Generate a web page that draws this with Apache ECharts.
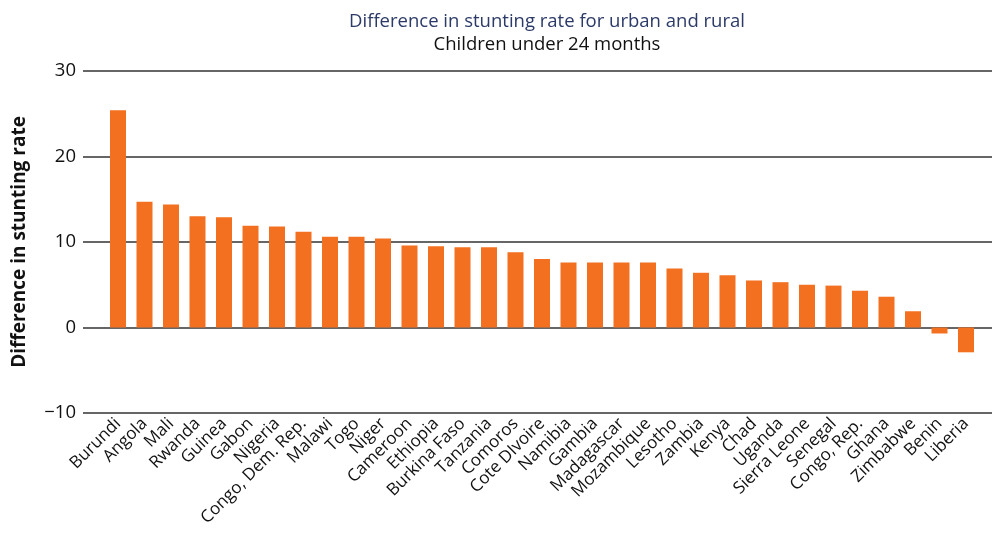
<!DOCTYPE html>
<html>
<head>
<meta charset="utf-8">
<script src="https://cdn.jsdelivr.net/npm/echarts@6/dist/echarts.min.js"></script>
<style>html,body{margin:0;padding:0;background:#fff}#c{width:992px;height:542px}</style>
</head>
<body>
<div id="c"></div>
<script>
const categories = ["Burundi","Angola","Mali","Rwanda","Guinea","Gabon","Nigeria","Congo, Dem. Rep.","Malawi","Togo","Niger","Cameroon","Ethiopia","Burkina Faso","Tanzania","Comoros","Cote DIvoire","Namibia","Gambia","Madagascar","Mozambique","Lesotho","Zambia","Kenya","Chad","Uganda","Sierra Leone","Senegal","Congo, Rep.","Ghana","Zimbabwe","Benin","Liberia"];
const values = [25.4,14.7,14.4,13.0,12.9,11.9,11.8,11.2,10.6,10.6,10.4,9.6,9.5,9.4,9.4,8.8,8.0,7.6,7.6,7.6,7.6,6.9,6.4,6.1,5.5,5.3,5.0,4.9,4.3,3.6,1.9,-0.7,-2.9];
const yTicks = [-10,0,10,20,30];
const titleText = "Difference in stunting rate for urban and rural";
const subtitleText = "Children under 24 months";
const yName = "Difference in stunting rate";

const FONT = "Open Sans";
const chart = echarts.init(document.getElementById('c'), null, {renderer:'canvas'});
chart.setOption({
  animation:false,
  backgroundColor:'#fff',
  title:{
    text:titleText, subtext:subtitleText, left:542, top:7, textAlign:'center', itemGap:4,
    textStyle:{fontFamily:FONT,fontSize:18.5,fontWeight:'normal',color:'#2b3a67'},
    subtextStyle:{fontFamily:FONT,fontSize:18.5,color:'#111'}
  },
  grid:[
    {left:83,right:0,top:71,bottom:129},
    {left:104.75,right:12.75,top:71,bottom:129}
  ],
  xAxis:[
    {gridIndex:0,type:'value',show:false,min:0,max:1},
    {gridIndex:1,type:'category',data:categories,
     axisLine:{show:false},axisTick:{show:false},
     axisLabel:{interval:0,rotate:45,margin:8,fontFamily:FONT,fontSize:17,color:'#111'}}
  ],
  yAxis:[
    {gridIndex:0,type:'value',min:yTicks[0],max:yTicks[yTicks.length-1],interval:10,
     name:yName,nameLocation:'middle',nameGap:54,
     nameTextStyle:{fontFamily:FONT,fontSize:19,fontWeight:'bold',color:'#111'},
     axisLine:{show:false},axisTick:{show:false},
     axisLabel:{margin:7,fontFamily:FONT,fontSize:18.5,color:'#111',formatter:v=>String(v).replace('-','\u2212')},
     splitLine:{lineStyle:{color:'#333',width:1.5}}},
    {gridIndex:1,type:'value',min:yTicks[0],max:yTicks[yTicks.length-1],interval:10,show:false,splitLine:{show:false}}
  ],
  series:[{
    type:'bar',xAxisIndex:1,yAxisIndex:1,data:values,barWidth:16,
    itemStyle:{color:'#f37021'}
  }]
});
</script>
</body>
</html>
